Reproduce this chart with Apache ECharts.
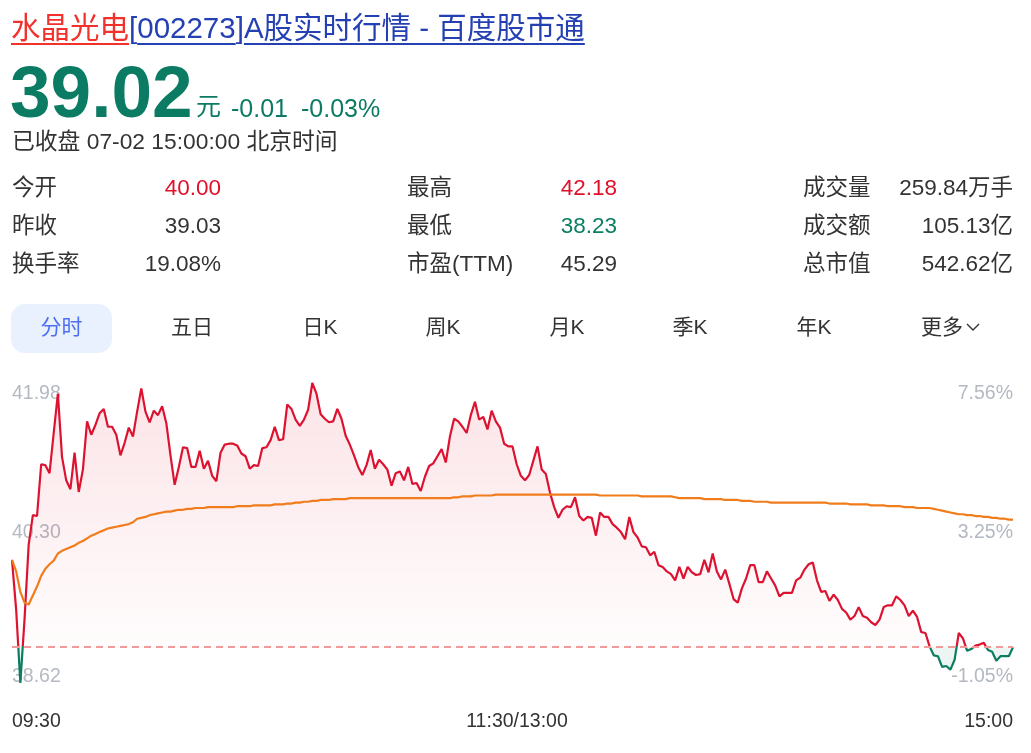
<!DOCTYPE html>
<html>
<head>
<meta charset="utf-8">
<script src="https://cdn.jsdelivr.net/npm/echarts/dist/echarts.min.js"></script>
<style>
  html, body { margin: 0; padding: 0; background: #fff; width: 1031px; height: 753px; overflow: hidden; }
  body { font-family: 'Liberation Sans', Arial, 'Noto Sans CJK SC', sans-serif; color: #333; }
  #chart { position: absolute; left: 0; top: 0; width: 1031px; height: 753px; }
  .t { position: absolute; white-space: nowrap; }
  .u { text-decoration: underline; text-decoration-thickness: 2px; text-underline-offset: 4.5px; }
  .red { color: #f2302c; }
  .blue { color: #2440b3; }
  .lab { font-size: 22.5px; line-height: 22.5px; color: #333; }
  .val { font-size: 22.5px; line-height: 22.5px; color: #333; text-align: right; width: 160px; }
  .tab { font-size: 21px; line-height: 21px; color: #333; width: 100px; text-align: center; top: 316px; }
</style>
</head>
<body>
<div id="chart"></div>

<div class="t" style="left:11px;top:12.5px;font-size:29.5px;line-height:29.5px;">
  <span class="u red">水晶光电</span><span class="blue">[</span><span class="u blue">002273</span><span class="blue">]</span><span class="u blue">A股实时行情 - 百度股市通</span>
</div>

<div class="t" style="left:10px;top:55px;font-size:73px;line-height:73px;font-weight:bold;color:#0b7b63;">39.02</div>
<div class="t" style="left:196px;top:94.3px;font-size:25px;line-height:25px;color:#0b7b63;">元</div>
<div class="t" style="left:231px;top:95.5px;font-size:25px;line-height:25px;color:#0b7b63;">-0.01</div>
<div class="t" style="left:301px;top:95.5px;font-size:25px;line-height:25px;color:#0b7b63;">-0.03%</div>

<div class="t" style="left:12px;top:130.3px;font-size:22.8px;line-height:22.8px;color:#333;">已收盘 07-02 15:00:00 北京时间</div>

<div class="t lab" style="left:12px;top:177px;">今开</div>
<div class="t val" style="left:61px;top:177px;color:#e0102b;">40.00</div>
<div class="t lab" style="left:12px;top:215px;">昨收</div>
<div class="t val" style="left:61px;top:215px;">39.03</div>
<div class="t lab" style="left:12px;top:253px;">换手率</div>
<div class="t val" style="left:61px;top:253px;">19.08%</div>

<div class="t lab" style="left:407px;top:177px;">最高</div>
<div class="t val" style="left:457px;top:177px;color:#e0102b;">42.18</div>
<div class="t lab" style="left:407px;top:215px;">最低</div>
<div class="t val" style="left:457px;top:215px;color:#0b7d62;">38.23</div>
<div class="t lab" style="left:407px;top:253px;">市盈(TTM)</div>
<div class="t val" style="left:457px;top:253px;">45.29</div>

<div class="t lab" style="left:803px;top:177px;">成交量</div>
<div class="t val" style="left:853px;top:177px;">259.84万手</div>
<div class="t lab" style="left:803px;top:215px;">成交额</div>
<div class="t val" style="left:853px;top:215px;">105.13亿</div>
<div class="t lab" style="left:803px;top:253px;">总市值</div>
<div class="t val" style="left:853px;top:253px;">542.62亿</div>

<div style="position:absolute;left:11px;top:304px;width:101px;height:49px;border-radius:14px;background:#e9f1fe;"></div>
<div class="t tab" style="left:11.5px;color:#4e6ef2;">分时</div>
<div class="t tab" style="left:142px;">五日</div>
<div class="t tab" style="left:270px;">日K</div>
<div class="t tab" style="left:393px;">周K</div>
<div class="t tab" style="left:517px;">月K</div>
<div class="t tab" style="left:640px;">季K</div>
<div class="t tab" style="left:764px;">年K</div>
<div class="t" style="left:921px;top:316px;font-size:21px;line-height:21px;color:#333;">更多<svg width="16" height="10" viewBox="0 0 16 10" style="margin-left:2px;vertical-align:2px;"><polyline points="2,2 8,8 14,2" fill="none" stroke="#333" stroke-width="1.4"/></svg></div>

<script>
// ---- data ----
const prevClose = 39.03;
const priceMin = 38.62;
const priceMax = 41.98;

const leftTickLabels = ['38.62', '40.30', '41.98'];
const rightTickLabels = ['-1.05%', '3.25%', '7.56%'];
const xTickIndex = [0, 120, 240];
const xTickLabels = ['09:30', '11:30/13:00', '15:00'];

// minute categories: 09:30-11:30 and 13:01-15:00
const times = [];
function hhmm(m) { const h = Math.floor(m / 60), mm = m % 60; return (h < 10 ? '0' : '') + h + ':' + (mm < 10 ? '0' : '') + mm; }
for (let m = 570; m <= 690; m++) times.push(hhmm(m));
for (let m = 781; m <= 900; m++) times.push(hhmm(m));

const prices = [
  40.00, 39.44, 38.62, 39.33, 40.17, 40.50, 40.49, 41.07, 41.06, 40.97,
  41.42, 41.86, 41.15, 40.89, 40.79, 41.20, 40.76, 41.01, 41.55, 41.40,
  41.51, 41.64, 41.69, 41.49, 41.49, 41.40, 41.17, 41.31, 41.48, 41.38,
  41.66, 41.92, 41.66, 41.54, 41.67, 41.62, 41.72, 41.53, 41.17, 40.84,
  41.04, 41.26, 41.25, 41.04, 41.04, 41.22, 41.02, 41.11, 40.94, 40.88,
  41.20, 41.29, 41.30, 41.30, 41.28, 41.19, 41.16, 41.02, 41.06, 41.05,
  41.25, 41.26, 41.34, 41.49, 41.34, 41.35, 41.74, 41.69, 41.57, 41.50,
  41.57, 41.68, 41.98, 41.86, 41.63, 41.58, 41.54, 41.55, 41.69, 41.58,
  41.39, 41.29, 41.17, 41.04, 40.95, 41.06, 41.23, 41.02, 41.12, 41.07,
  41.01, 40.83, 40.97, 40.99, 40.89, 41.04, 40.85, 40.86, 40.77, 40.93,
  41.05, 41.08, 41.16, 41.24, 41.09, 41.38, 41.58, 41.55, 41.49, 41.42,
  41.62, 41.77, 41.57, 41.60, 41.46, 41.67, 41.55, 41.48, 41.30, 41.27,
  41.27, 41.07, 40.94, 40.89, 40.95, 41.11, 41.27, 41.01, 40.96, 40.75,
  40.59, 40.47, 40.56, 40.60, 40.59, 40.70, 40.49, 40.44, 40.48, 40.47,
  40.27, 40.53, 40.48, 40.48, 40.40, 40.36, 40.31, 40.23, 40.48, 40.31,
  40.25, 40.15, 40.14, 40.05, 40.09, 39.94, 39.92, 39.87, 39.84, 39.77,
  39.92, 39.79, 39.92, 39.86, 39.83, 39.84, 40.00, 39.86, 40.07, 39.87,
  39.78, 39.89, 39.73, 39.56, 39.52, 39.68, 39.79, 39.94, 39.94, 39.75,
  39.75, 39.87, 39.79, 39.71, 39.59, 39.63, 39.63, 39.63, 39.77, 39.80,
  39.89, 39.95, 39.97, 39.77, 39.64, 39.65, 39.54, 39.61, 39.55, 39.45,
  39.41, 39.33, 39.37, 39.47, 39.37, 39.35, 39.30, 39.27, 39.33, 39.47,
  39.49, 39.49, 39.59, 39.55, 39.49, 39.37, 39.43, 39.36, 39.19, 39.18,
  39.03, 38.93, 38.92, 38.80, 38.81, 38.77, 38.88, 39.18, 39.12, 38.98,
  39.00, 39.04, 39.05, 39.07, 38.99, 38.97, 38.87, 38.92, 38.92, 38.92,
  39.02
];

const avgPrices = [
  40.00, 39.87, 39.64, 39.52, 39.50, 39.60, 39.70, 39.82, 39.90, 39.95,
  39.99, 40.07, 40.10, 40.12, 40.14, 40.16, 40.19, 40.21, 40.24, 40.27,
  40.29, 40.31, 40.33, 40.35, 40.36, 40.37, 40.38, 40.39, 40.40, 40.42,
  40.46, 40.47, 40.48, 40.50, 40.51, 40.52, 40.53, 40.54, 40.54, 40.55,
  40.56, 40.56, 40.57, 40.57, 40.58, 40.58, 40.58, 40.59, 40.59, 40.59,
  40.59, 40.59, 40.59, 40.59, 40.60, 40.60, 40.60, 40.60, 40.61, 40.61,
  40.61, 40.61, 40.61, 40.62, 40.62, 40.62, 40.63, 40.63, 40.64, 40.64,
  40.65, 40.65, 40.66, 40.66, 40.67, 40.67, 40.67, 40.68, 40.68, 40.68,
  40.68, 40.69, 40.69, 40.69, 40.69, 40.69, 40.69, 40.69, 40.69, 40.69,
  40.69, 40.69, 40.69, 40.69, 40.69, 40.69, 40.69, 40.69, 40.69, 40.69,
  40.69, 40.69, 40.69, 40.69, 40.69, 40.69, 40.70, 40.70, 40.71, 40.71,
  40.71, 40.72, 40.72, 40.72, 40.72, 40.72, 40.73, 40.73, 40.73, 40.73,
  40.73, 40.73, 40.73, 40.73, 40.73, 40.73, 40.73, 40.73, 40.73, 40.73,
  40.73, 40.73, 40.73, 40.73, 40.73, 40.73, 40.73, 40.73, 40.73, 40.73,
  40.73, 40.72, 40.72, 40.72, 40.72, 40.72, 40.72, 40.72, 40.72, 40.72,
  40.72, 40.71, 40.71, 40.71, 40.71, 40.71, 40.71, 40.71, 40.71, 40.70,
  40.69, 40.69, 40.69, 40.69, 40.69, 40.69, 40.68, 40.68, 40.68, 40.68,
  40.68, 40.67, 40.67, 40.67, 40.67, 40.66, 40.66, 40.66, 40.65, 40.65,
  40.65, 40.65, 40.64, 40.64, 40.64, 40.64, 40.64, 40.64, 40.64, 40.64,
  40.64, 40.64, 40.64, 40.64, 40.64, 40.64, 40.63, 40.63, 40.63, 40.63,
  40.63, 40.62, 40.62, 40.62, 40.62, 40.62, 40.61, 40.61, 40.61, 40.61,
  40.60, 40.60, 40.60, 40.60, 40.59, 40.59, 40.59, 40.58, 40.58, 40.58,
  40.58, 40.57, 40.56, 40.55, 40.54, 40.53, 40.52, 40.51, 40.51, 40.50,
  40.50, 40.49, 40.49, 40.48, 40.48, 40.47, 40.47, 40.46, 40.46, 40.45,
  40.45
];

// ---- chart ----
const FONT = "'Liberation Sans', Arial, 'Noto Sans CJK SC', sans-serif";
const RED = '#dd1230';
const GREEN = '#0b7d62';
const ORANGE = '#f07c1c';
const GREY = '#b4b9c2';

const chart = echarts.init(document.getElementById('chart'), null, { renderer: 'canvas' });

function labelAxis(position, labels) {
  return {
    type: 'value', min: 0, max: 2, interval: 1, position: position,
    axisLine: { show: false }, axisTick: { show: false }, splitLine: { show: false },
    axisLabel: {
      inside: true, margin: 0, color: GREY, fontSize: 19.5, fontFamily: FONT,
      formatter: function (v) {
        const i = Math.round(v);
        const key = i === 2 ? 't' : (i === 0 ? 'b' : 'c');
        return '{' + key + '|' + labels[i] + '}';
      },
      rich: {
        t: { padding: [22, 0, 0, 0], color: GREY, fontSize: 19.5, fontFamily: FONT },
        c: { padding: [0, 0, 1, 0], color: GREY, fontSize: 19.5, fontFamily: FONT },
        b: { padding: [0, 0, 12, 0], color: GREY, fontSize: 19.5, fontFamily: FONT }
      }
    }
  };
}

const option = {
  animation: false,
  textStyle: { fontFamily: FONT },
  grid: { left: 12, right: 18, top: 383, bottom: 70, containLabel: false, outerBoundsMode: 'none' },
  xAxis: {
    type: 'category', data: times, boundaryGap: false,
    axisLine: { show: false }, axisTick: { show: false }, splitLine: { show: false },
    axisLabel: {
      interval: function (i) { return xTickIndex.indexOf(i) >= 0; },
      formatter: function (v, i) {
        const k = xTickIndex.indexOf(i);
        if (k === 1) return '{m|' + xTickLabels[k] + '}';
        return k >= 0 ? xTickLabels[k] : '';
      },
      alignMinLabel: 'left', alignMaxLabel: 'right',
      color: '#333', fontSize: 19.5, fontFamily: FONT, margin: 29,
      rich: { m: { padding: [0, 0, 0, 9], color: '#333', fontSize: 19.5, fontFamily: FONT } }
    }
  },
  yAxis: [
    { type: 'value', min: priceMin, max: priceMax, show: false, splitLine: { show: false } },
    labelAxis('left', leftTickLabels),
    labelAxis('right', rightTickLabels)
  ],
  visualMap: {
    show: false, type: 'piecewise', seriesIndex: 0, dimension: 1,
    pieces: [ { gte: 30, lte: prevClose, color: GREEN }, { gt: prevClose, lte: 50, color: RED } ]
  },
  series: [
    {
      name: '价格', type: 'line', data: prices, yAxisIndex: 0,
      showSymbol: false, symbol: 'none',
      lineStyle: { width: 2.2 },
      areaStyle: {
        origin: prevClose,
        color: new echarts.graphic.LinearGradient(0, 0, 0, 1, [
          { offset: 0, color: 'rgba(225,20,50,0.17)' },
          { offset: 0.878, color: 'rgba(225,20,50,0.015)' },
          { offset: 0.878, color: 'rgba(10,125,97,0.10)' },
          { offset: 1, color: 'rgba(10,125,97,0.13)' }
        ])
      },
      markLine: {
        silent: true, symbol: ['none', 'none'], animation: false,
        label: { show: false },
        lineStyle: { color: '#f29a9a', type: [7, 5], width: 1.8 },
        data: [ { yAxis: prevClose } ]
      }
    },
    {
      name: '均价', type: 'line', data: avgPrices, yAxisIndex: 0,
      showSymbol: false, symbol: 'none',
      lineStyle: { width: 2.2, color: ORANGE }, itemStyle: { color: ORANGE }
    }
  ]
};
chart.setOption(option);
</script>
</body>
</html>
